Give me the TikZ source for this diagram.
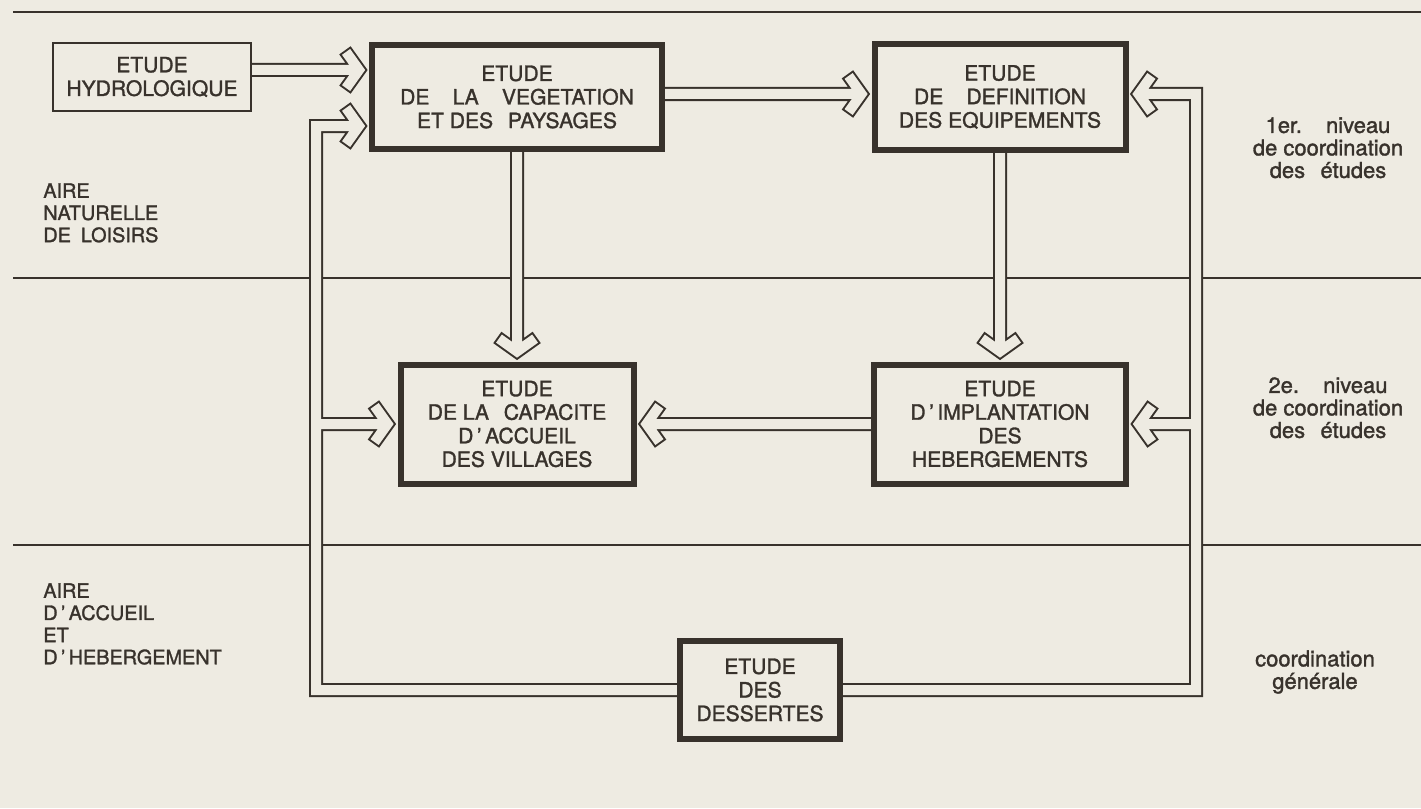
\documentclass[tikz,border=0pt]{standalone}
\usepackage{fontspec}
\setmainfont{TeX Gyre Heros}[FakeBold=1.4]
\usetikzlibrary{calc,positioning}
\definecolor{paper}{HTML}{EEEBE2}
\definecolor{ink}{HTML}{38322C}
\pgfdeclarelayer{back}
\pgfdeclarelayer{links}
\pgfsetlayers{back,links,main}
\newcommand{\wsp}{\hspace{1.1em}}
\newcommand{\nsp}{\hspace{0.7em}}
% open chevrons at a tip point (east, west, south)
\newcommand{\tipE}[1]{($(#1)+(-10,-14)$) -- (#1) -- ($(#1)+(-10,14)$)}
\newcommand{\tipW}[1]{($(#1)+(10,-14)$) -- (#1) -- ($(#1)+(10,14)$)}
\newcommand{\tipS}[1]{($(#1)+(-14,-10)$) -- (#1) -- ($(#1)+(14,-10)$)}

\begin{document}
\begin{tikzpicture}[x=0.2mm,y=-0.2mm,
    every node/.style={font=\fontsize{12}{13.4}\selectfont,text=ink,align=center,inner sep=0pt},
    etude/.style={draw=ink,fill=paper,line width=1.2mm},
    link/.style={draw=ink,line width=0.4mm,double=paper,double distance=2mm,line cap=rect,line join=miter},
    rule/.style={draw=ink,line width=0.4mm},
    area/.style={anchor=north west,align=left,font=\fontsize{11.3}{12.6}\selectfont},
    level/.style={anchor=north,font=\fontsize{12.5}{12.8}\selectfont}]
        \useasboundingbox (0,0) rectangle (1421,808);

        % studies
        \node[etude,line width=0.5mm,minimum width=39.6mm,minimum height=13.6mm] (hydro) at (152,77) {ETUDE\\HYDROLOGIQUE};
        \node[etude,minimum width=58mm,minimum height=20.8mm] (veg) at (517,97) {ETUDE\\DE\wsp LA\wsp VEGETATION\\ET DES\nsp PAYSAGES};
        \node[etude,minimum width=50.2mm,minimum height=21mm] (equip) at (1000,97) {ETUDE\\DE\wsp DEFINITION\\DES EQUIPEMENTS};
        \node[etude,minimum width=46.6mm,minimum height=23.8mm] (capac) at (517,424) {ETUDE\\DE LA\nsp CAPACITE\\D\,'\,ACCUEIL\\DES VILLAGES};
        \node[etude,minimum width=50.4mm,minimum height=23.8mm] (implant) at (1000,424) {ETUDE\\D\,'\,IMPLANTATION\\DES\\HEBERGEMENTS};
        \node[etude,minimum width=32mm,minimum height=19.6mm] (dess) at (760,690) {ETUDE\\DES\\DESSERTES};

        % areas and levels
        \node[area] (natur) at (43,183) {AIRE\\NATURELLE\\DE\hspace{0.5em}LOISIRS};
        \node[area] (accueil) at (43,583) {AIRE\\D\,'\,ACCUEIL\\ET\\D\,'\,HEBERGEMENT};
        \node[level] (niv1) at (1328,117) {1er.\wsp niveau\\de coordination\\des\nsp études};
        \node[level] (niv2) at (1328,377) {2e.\wsp niveau\\de coordination\\des\nsp études};
        \node[level] (gen) at (1315,650) {coordination\\générale};

        % tips
        \coordinate (lx) at (316,0);
        \coordinate (rx) at (1196,0);
        \coordinate (t1) at ($(veg.west)+(-10,-27)$);
        \coordinate (t2) at ($(equip.west)+(-10,-3)$);
        \coordinate (t3) at ($(veg.west)+(-10,29)$);
        \coordinate (t4) at ($(capac.north)+(0,-10)$);
        \coordinate (t5) at ($(implant.north)+(0,-10)$);
        \coordinate (t6) at ($(capac.east)+(10,0)$);
        \coordinate (t7) at ($(capac.west)+(-10,0)$);
        \coordinate (t8) at ($(equip.east)+(10,-3)$);
        \coordinate (t9) at ($(implant.east)+(10,0)$);

        \begin{pgfonlayer}{back}
        \fill[paper] (0,0) rectangle (1421,808);
        \draw[rule] (13,12) -- (1421,12);
        \draw[rule] (13,278) -- (1421,278);
        \draw[rule] (13,545) -- (1421,545);
        \end{pgfonlayer}

        \begin{pgfonlayer}{links}
        \draw[link] ($(hydro.east)+(0,-7)$) -- ($(t1)+(-10,0)$) \tipE{t1};
        \draw[link] ($(veg.east)+(0,-3)$) -- ($(t2)+(-10,0)$) \tipE{t2};
        \draw[link] (veg.south) -- ($(t4)+(0,-10)$) \tipS{t4};
        \draw[link] (equip.south) -- ($(t5)+(0,-10)$) \tipS{t5};
        \draw[link] (implant.west) -- ($(t6)+(10,0)$) \tipW{t6};
        \draw[link] (dess.west) -| (lx |- t3) -- ($(t3)+(-10,0)$) \tipE{t3}
            (lx |- t7) -- ($(t7)+(-10,0)$) \tipE{t7};
        \draw[link] (dess.east) -| (rx |- t8) -- ($(t8)+(10,0)$) \tipW{t8}
            (rx |- t9) -- ($(t9)+(10,0)$) \tipW{t9};
        \end{pgfonlayer}

    \end{tikzpicture}
\end{document}
